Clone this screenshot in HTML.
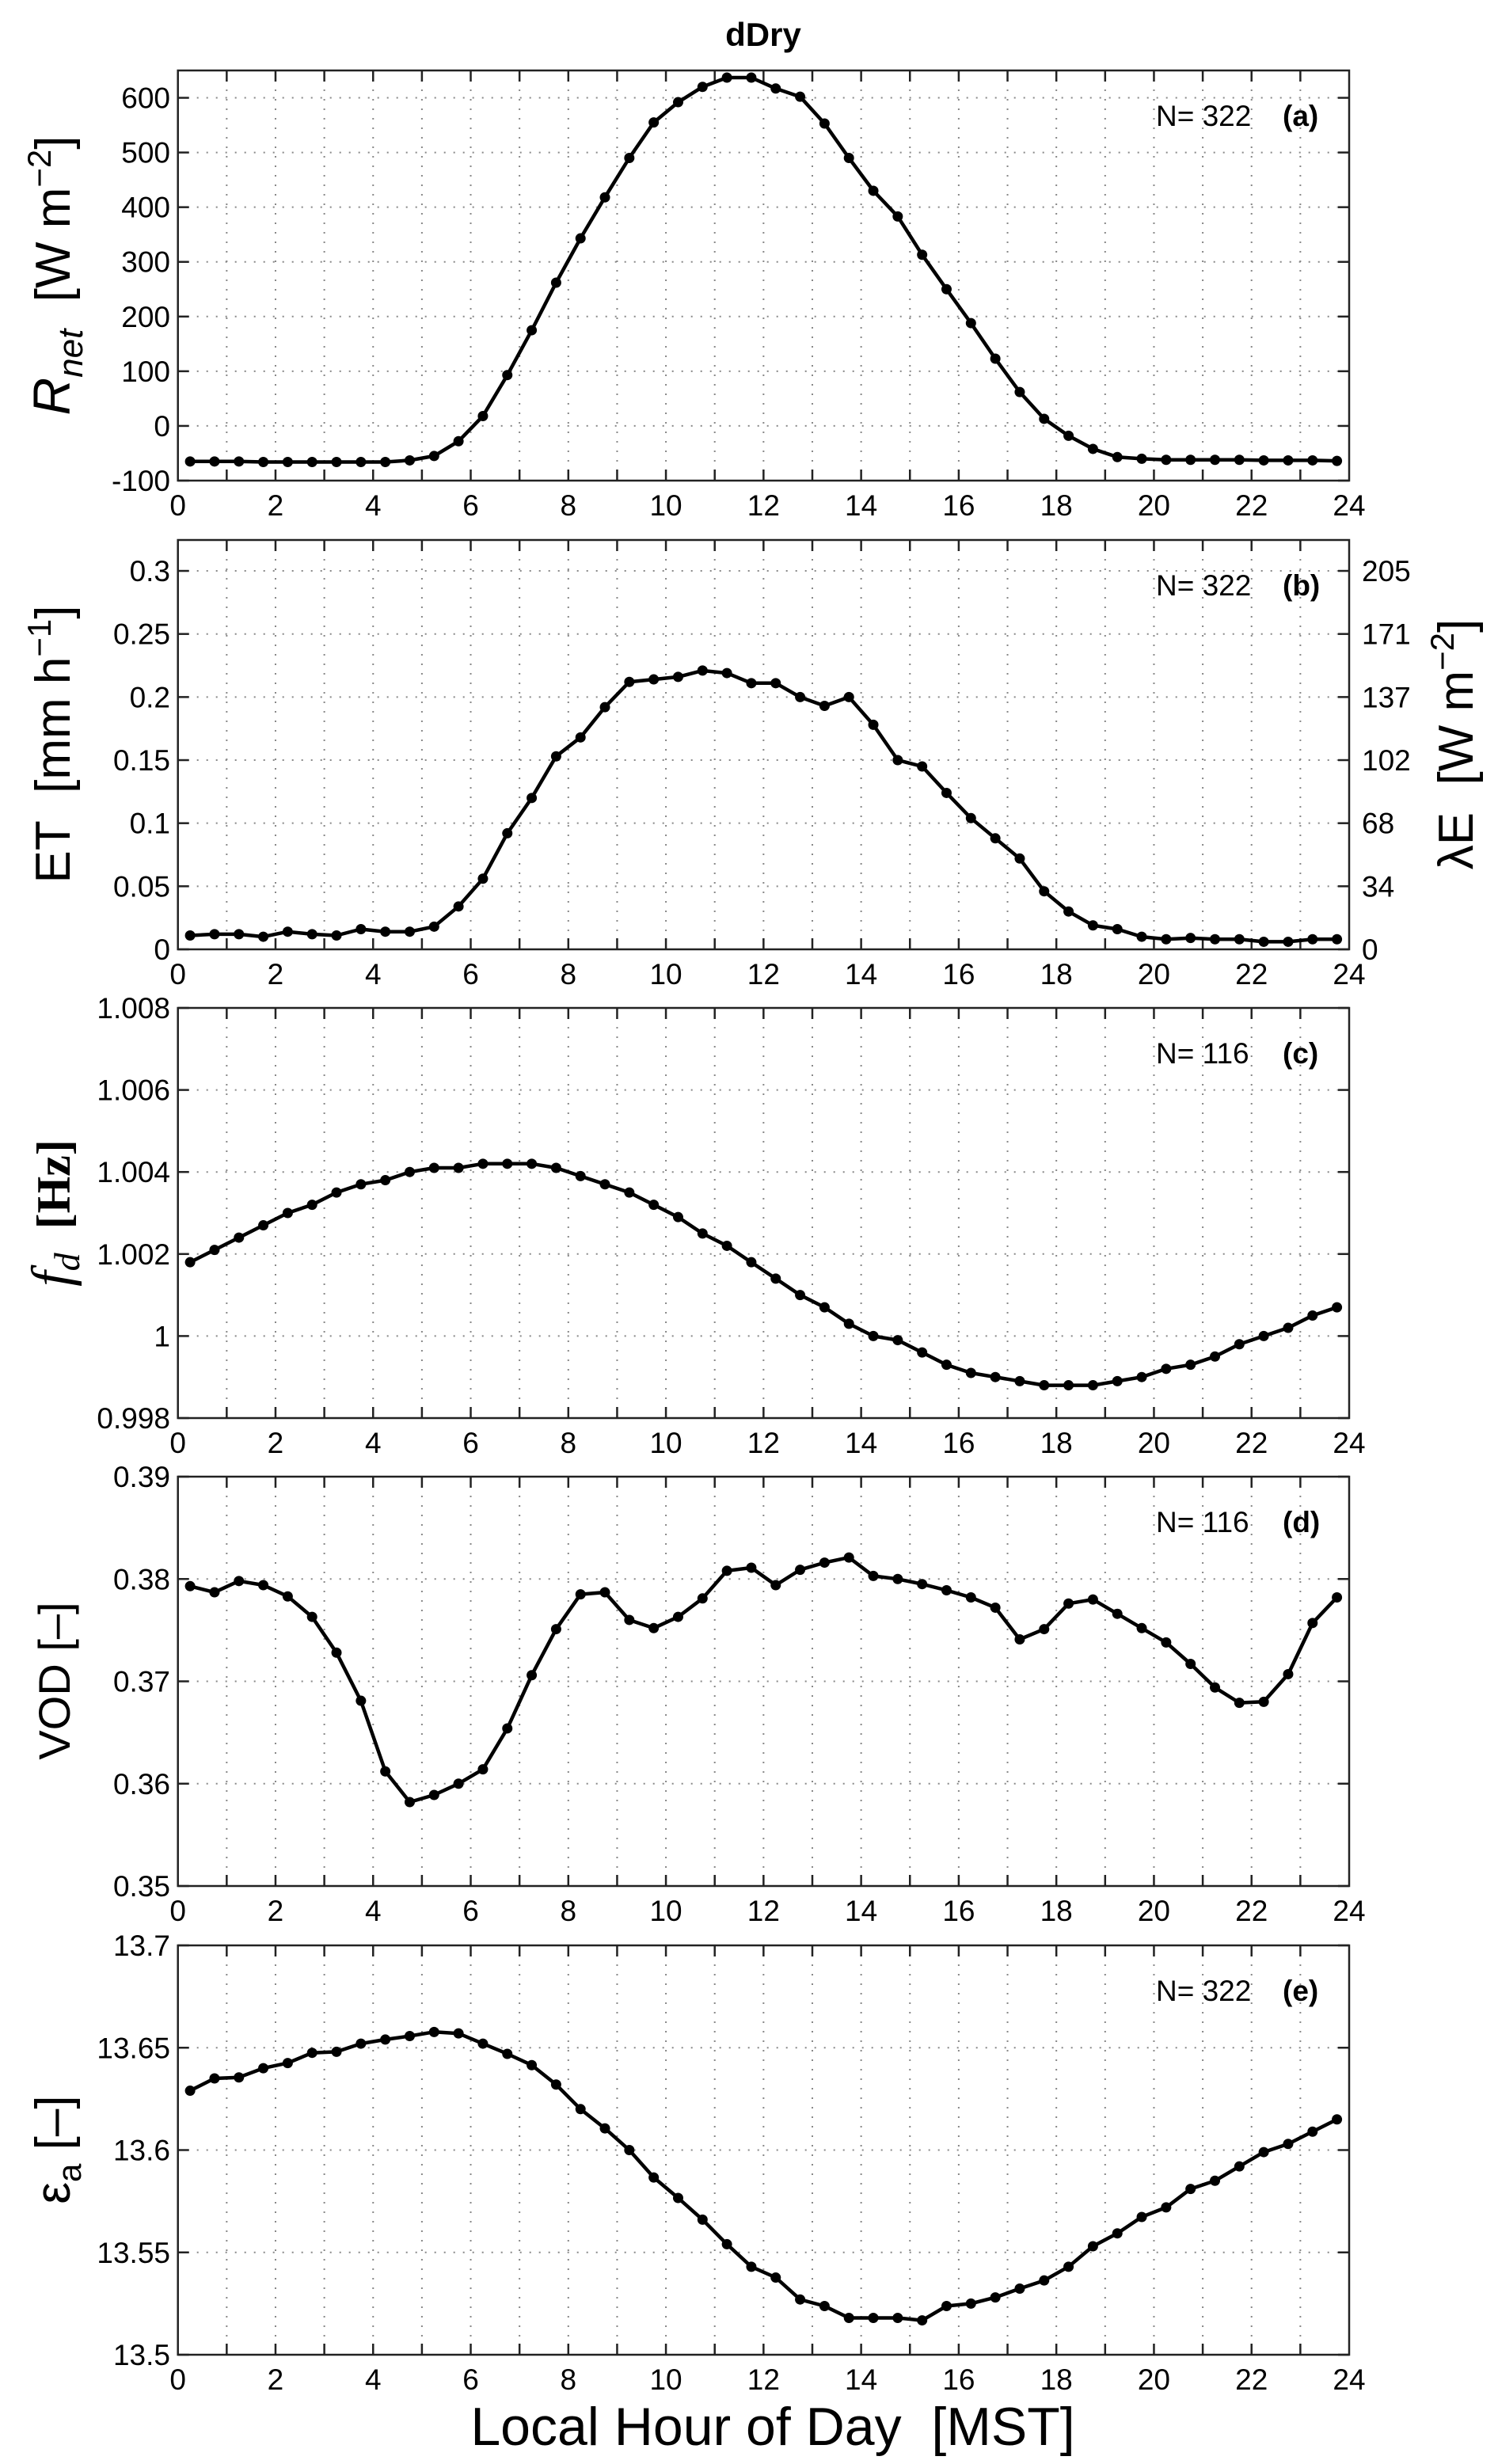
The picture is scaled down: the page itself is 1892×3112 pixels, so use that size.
<!DOCTYPE html>
<html><head><meta charset="utf-8">
<style>
html,body{margin:0;padding:0;background:#fff;}
svg{display:block;font-family:"Liberation Sans",sans-serif;}
</style></head>
<body>
<svg id="fig" width="1892" height="3112" viewBox="0 0 1892 3112" xmlns="http://www.w3.org/2000/svg">
<rect width="1892" height="3112" fill="#fff"/>
<text x="964" y="58" font-size="42" font-weight="bold" text-anchor="middle">dDry</text>
<text x="976" y="3088" font-size="68" text-anchor="middle">Local Hour of Day&#160;&#160;[MST]</text>
</svg>
<script>
const hours = [0.25,0.75,1.25,1.75,2.25,2.75,3.25,3.75,4.25,4.75,5.25,5.75,6.25,6.75,7.25,7.75,8.25,8.75,9.25,9.75,10.25,10.75,11.25,11.75,12.25,12.75,13.25,13.75,14.25,14.75,15.25,15.75,16.25,16.75,17.25,17.75,18.25,18.75,19.25,19.75,20.25,20.75,21.25,21.75,22.25,22.75,23.25,23.75];
const rnetValues = [-65,-65,-65,-66,-66,-66,-66,-66,-66,-63,-55,-28,18,93,175,262,343,418,490,555,592,620,637,637,617,602,553,490,430,383,313,250,188,123,62,13,-18,-42,-57,-60,-62,-62,-62,-62,-63,-63,-63,-64];
const etValues = [0.011,0.012,0.012,0.010,0.014,0.012,0.011,0.016,0.014,0.014,0.018,0.034,0.056,0.092,0.120,0.153,0.168,0.192,0.212,0.214,0.216,0.221,0.219,0.211,0.211,0.200,0.193,0.200,0.178,0.150,0.145,0.124,0.104,0.088,0.072,0.046,0.030,0.019,0.016,0.010,0.008,0.009,0.008,0.008,0.006,0.006,0.008,0.008];
const fdValues = [1.0018,1.0021,1.0024,1.0027,1.0030,1.0032,1.0035,1.0037,1.0038,1.0040,1.0041,1.0041,1.0042,1.0042,1.0042,1.0041,1.0039,1.0037,1.0035,1.0032,1.0029,1.0025,1.0022,1.0018,1.0014,1.0010,1.0007,1.0003,1.0000,0.9999,0.9996,0.9993,0.9991,0.9990,0.9989,0.9988,0.9988,0.9988,0.9989,0.9990,0.9992,0.9993,0.9995,0.9998,1.0000,1.0002,1.0005,1.0007];
const vodValues = [0.3793,0.3787,0.3798,0.3794,0.3783,0.3763,0.3728,0.3681,0.3612,0.3582,0.3589,0.3600,0.3614,0.3654,0.3706,0.3751,0.3785,0.3787,0.3760,0.3752,0.3763,0.3781,0.3808,0.3811,0.3794,0.3809,0.3816,0.3821,0.3803,0.3800,0.3795,0.3789,0.3782,0.3772,0.3741,0.3751,0.3776,0.3780,0.3766,0.3752,0.3738,0.3717,0.3694,0.3679,0.3680,0.3707,0.3757,0.3782];
const epsValues = [13.629,13.635,13.6355,13.640,13.6425,13.6475,13.648,13.652,13.654,13.6557,13.6577,13.657,13.652,13.647,13.6415,13.632,13.620,13.6106,13.600,13.5866,13.5766,13.566,13.554,13.543,13.5377,13.527,13.5238,13.518,13.518,13.518,13.5168,13.5238,13.525,13.528,13.5323,13.5363,13.543,13.553,13.5593,13.5673,13.572,13.581,13.585,13.592,13.599,13.603,13.609,13.615];
const xTickLabels = ["0","2","4","6","8","10","12","14","16","18","20","22","24"];
const rnetTicks = [-100,0,100,200,300,400,500,600];
const etTicks = [0,0.05,0.1,0.15,0.2,0.25,0.3];
const lambdaETickLabels = ["0","34","68","102","137","171","205"];
const fdTicks = [0.998,1,1.002,1.004,1.006,1.008];
const vodTicks = [0.35,0.36,0.37,0.38,0.39];
const epsTicks = [13.5,13.55,13.6,13.65,13.7];
const nLabels = ["N= 322","N= 322","N= 116","N= 116","N= 322"];
const panelLetters = ["(a)","(b)","(c)","(d)","(e)"];

const NS="http://www.w3.org/2000/svg";
const svg=document.getElementById('fig');
const L=224.7,R=1704;
const X0=0,X1=24;
function mk(tag,attrs,parent){const e=document.createElementNS(NS,tag);for(const k in attrs)e.setAttribute(k,attrs[k]);(parent||svg).appendChild(e);return e;}

const panels=[
 {top:89,bot:607,ymin:-100,ymax:650,ticks:rnetTicks,labels:rnetTicks.map(String),vals:rnetValues,id:'rnet'},
 {top:682,bot:1199,ymin:0,ymax:0.3245,ticks:etTicks,labels:etTicks.map(String),vals:etValues,id:'et',right:true},
 {top:1273,bot:1791,ymin:0.998,ymax:1.008,ticks:fdTicks,labels:fdTicks.map(v=>String(v)),vals:fdValues,id:'fd'},
 {top:1865,bot:2382,ymin:0.35,ymax:0.39,ticks:vodTicks,labels:vodTicks.map(String),vals:vodValues,id:'vod'},
 {top:2457,bot:2974,ymin:13.5,ymax:13.7,ticks:epsTicks,labels:epsTicks.map(String),vals:epsValues,id:'eps'}
];

panels.forEach((p,pi)=>{
  const g=mk('g',{});
  
  
  const xs=v=>L+(v-X0)/(X1-X0)*(R-L);
  const ys=v=>p.bot-(v-p.ymin)/(p.ymax-p.ymin)*(p.bot-p.top);
  for(let h=1;h<24;h++){
    const gl=mk('line',{x1:xs(h),x2:xs(h),y1:p.top,y2:p.bot,stroke:'#888','stroke-width':2,'stroke-dasharray':'2 10'},g);
    
    
    mk('line',{x1:xs(h),x2:xs(h),y1:p.bot,y2:p.bot-14,stroke:'#222','stroke-width':2.5},g);
    mk('line',{x1:xs(h),x2:xs(h),y1:p.top,y2:p.top+14,stroke:'#222','stroke-width':2.5},g);
  }
  p.ticks.forEach((t,i)=>{
    const y=ys(t);
    if(y>p.top+1&&y<p.bot-1){
      const gl=mk('line',{x1:L,x2:R,y1:y,y2:y,stroke:'#888','stroke-width':2,'stroke-dasharray':'2 10'},g);
      
      
    }
    mk('line',{x1:L,x2:L+14,y1:y,y2:y,stroke:'#222','stroke-width':2.5},g);
    mk('line',{x1:R,x2:R-14,y1:y,y2:y,stroke:'#222','stroke-width':2.5},g);
    const tl=mk('text',{x:215,y:y+13,'font-size':37,'text-anchor':'end'},g);
    tl.textContent=p.labels[i];
    
    
    if(p.right){
      const rl=mk('text',{x:1720,y:y+13,'font-size':37,'text-anchor':'start'},g);
      rl.textContent=lambdaETickLabels[i];
      
      
    }
  });
  const box=mk('rect',{x:L,y:p.top,width:R-L,height:p.bot-p.top,fill:'none',stroke:'#222','stroke-width':2.5},g);
  
  
  xTickLabels.forEach(s=>{
    const v=parseFloat(s);
    const xl=mk('text',{x:xs(v),y:p.bot+44,'font-size':37,'text-anchor':'middle'},g);
    xl.textContent=s;
    
    
  });
  const pts=hours.map((h,i)=>xs(h).toFixed(1)+','+ys(p.vals[i]).toFixed(1)).join(' ');
  const line=mk('polyline',{points:pts,fill:'none',stroke:'#000','stroke-width':4.5,'stroke-linejoin':'round'},g);
  
  
  hours.forEach((h,i)=>{
    const c=mk('circle',{cx:xs(h),cy:ys(p.vals[i]),r:6.5,fill:'#000'},g);
    
    
  });
  const nl=mk('text',{x:1460,y:p.top+70,'font-size':37},g);
  nl.textContent=nLabels[pi];
  
  
  const pl=mk('text',{x:1620,y:p.top+70,'font-size':37,'font-weight':'bold'},g);
  pl.textContent=panelLetters[pi];
  
  
});

function ytitle(name,cx,cy,html){
  const t=mk('text',{transform:`translate(${cx},${cy}) rotate(-90)`,'text-anchor':'middle','font-size':62});
  t.innerHTML=html;
  
  
}
ytitle('y-axis-title-rnet',88,348,'<tspan font-style="italic" font-size="66">R</tspan><tspan font-style="italic" font-size="44" dy="16">net</tspan><tspan dy="-16">&#160;&#160;[W m</tspan><tspan font-size="42" dy="-24">−2</tspan><tspan dy="24">]</tspan>');
ytitle('y-axis-title-et',88,940,'ET&#160;&#160;[mm h<tspan font-size="42" dy="-24">−1</tspan><tspan dy="24">]</tspan>');
ytitle('y-axis-title-lambdae',1860,940,'λE&#160;&#160;[W m<tspan font-size="42" dy="-24">−2</tspan><tspan dy="24">]</tspan>');
ytitle('y-axis-title-fd',88,1532,'<tspan font-family="Liberation Serif, serif" font-style="italic" font-size="70">f</tspan><tspan font-family="Liberation Serif, serif" font-style="italic" font-size="46" dy="12">d</tspan><tspan font-family="Liberation Serif, serif" font-weight="bold" font-size="60" dy="-12">&#160;&#160;[Hz]</tspan>');
ytitle('y-axis-title-vod',88,2123,'<tspan font-size="56">VOD [–]</tspan>');
ytitle('y-axis-title-eps',88,2715,'ε<tspan font-size="42" dy="14">a</tspan><tspan dy="-14">&#160;[–]</tspan>');
</script>
</body></html>
